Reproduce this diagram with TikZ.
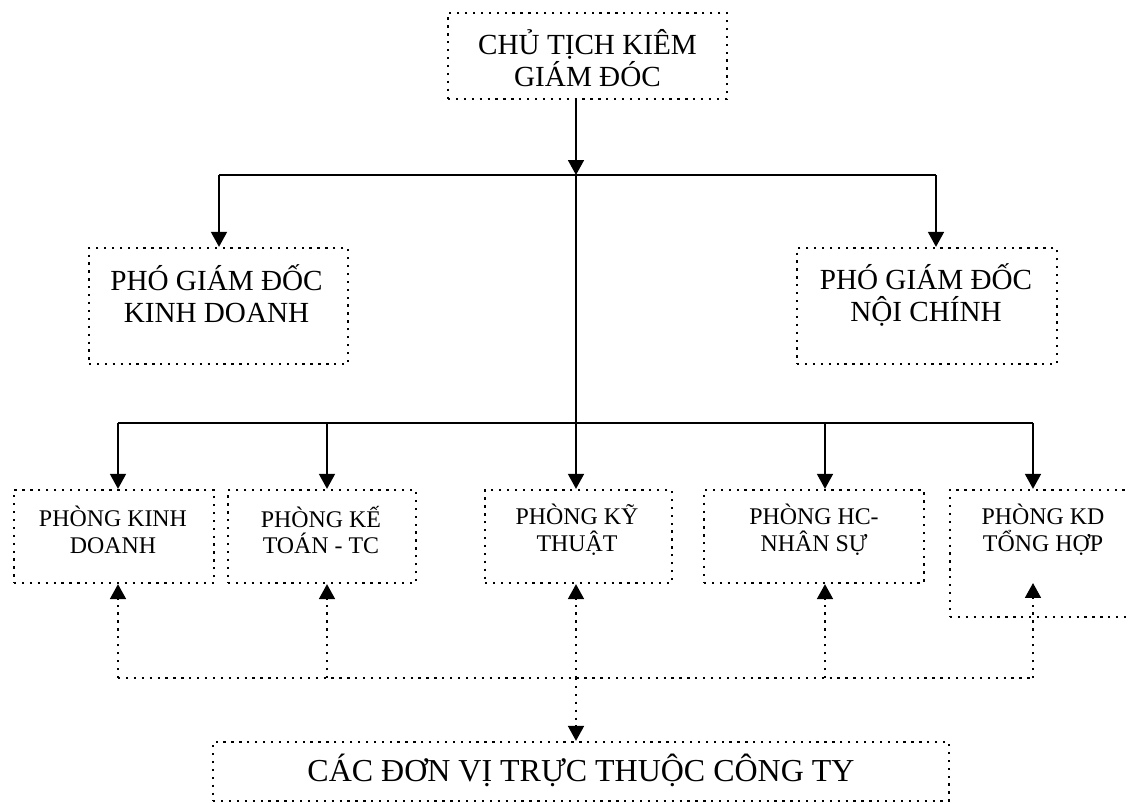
\documentclass[tikz,border=0pt]{standalone}
\usepackage{fontspec}
\setmainfont{Liberation Serif}
\usetikzlibrary{arrows.meta,positioning}

\begin{document}
\begin{tikzpicture}[x=0.02cm,y=-0.02cm]
    % kiểu dáng
    \tikzset{
        box/.style={rectangle, draw, line width=1.3pt, dash pattern=on 1.3pt off 3.2pt, inner sep=0pt},
        lbl/.style={align=center, inner sep=0pt},
        big/.style={lbl, font=\fontsize{16.6}{18}\selectfont},
        small/.style={lbl, font=\fontsize{13.6}{15.3}\selectfont},
        line/.style={line width=1.2pt},
        arr/.style={line, -{Triangle[length=8.5pt,width=9pt]}},
        dotline/.style={line width=1.3pt, dash pattern=on 1.3pt off 3.2pt},
        dotarr/.style={dotline, -{Triangle[length=8.5pt,width=9pt]}},
    }

    % khung trang
    \clip (0,0) rectangle (1130,802);

    % các khung
    \node[box, minimum width=5.58cm, minimum height=1.72cm] (ct) at (587.5,56) {};
    \node[box, minimum width=5.18cm, minimum height=2.32cm] (pkd) at (218.5,306) {};
    \node[box, minimum width=5.2cm, minimum height=2.32cm] (pnc) at (927,306) {};
    \node[box, minimum width=4.0cm, minimum height=1.86cm] (b1) at (114,536.5) {};
    \node[box, minimum width=3.76cm, minimum height=1.86cm] (b2) at (322,536.5) {};
    \node[box, minimum width=3.74cm, minimum height=1.86cm] (b3) at (578.5,536.5) {};
    \node[box, minimum width=4.4cm, minimum height=1.86cm] (b4) at (814,536.5) {};
    \node[box, minimum width=3.72cm, minimum height=2.54cm] (b5) at (1043,553.5) {};
    \node[box, minimum width=14.72cm, minimum height=1.18cm] (dv) at (581,771.5) {};

    % chữ
    \node[big] (ct-t) at (587.5,58) {CHỦ TỊCH KIÊM\\GIÁM ĐÓC};
    \node[big] (pkd-t) at (216.5,294) {PHÓ GIÁM ĐỐC\\KINH DOANH};
    \node[big] (pnc-t) at (926,295) {PHÓ GIÁM ĐỐC\\NỘI CHÍNH};
    \node[small] (b1-t) at (113,530) {PHÒNG KINH\\DOANH};
    \node[small] (b2-t) at (321,530) {PHÒNG KẾ\\TOÁN - TC};
    \node[small] (b3-t) at (577,530) {PHÒNG KỸ\\THUẬT};
    \node[small] (b4-t) at (814,530) {PHÒNG HC-\\NHÂN SỰ};
    \node[small] (b5-t) at (1043,530) {PHÒNG KD\\TỔNG HỢP};
    \node[lbl, font=\fontsize{18.2}{20}\selectfont] (dv-t) at (581,770) {CÁC ĐƠN VỊ TRỰC THUỘC CÔNG TY};

    % điểm nối
    \coordinate (j0) at (576,175);
    \coordinate (a1) at (219,175);
    \coordinate (a2) at (936,175);
    \foreach \i/\x in {1/118,2/327,3/576,4/825,5/1033} {
        \coordinate (k\i) at (\x,423);
        \coordinate (d\i) at (\x,678);
    }
    \coordinate (t5) at (1033,583);

    % đường liền
    \draw[arr] (j0 |- ct.south) -- (j0);
    \draw[line] (a1) -- (a2);
    \draw[arr] (a1) -- (a1 |- pkd.north);
    \draw[arr] (a2) -- (a2 |- pnc.north);
    \draw[line] (j0) -- (k3);
    \draw[line] (k1) -- (k5);
    \foreach \i in {1,...,5}
        \draw[arr] (k\i) -- (k\i |- b\i.north);

    % đường chấm
    \draw[dotline] (d1) -- (d5);
    \foreach \i in {1,...,4}
        \draw[dotarr] (d\i) -- (d\i |- b\i.south);
    \draw[dotarr] (d5) -- (t5);
    \draw[dotarr] (d3) -- (d3 |- dv.north);
\end{tikzpicture}
\end{document}
